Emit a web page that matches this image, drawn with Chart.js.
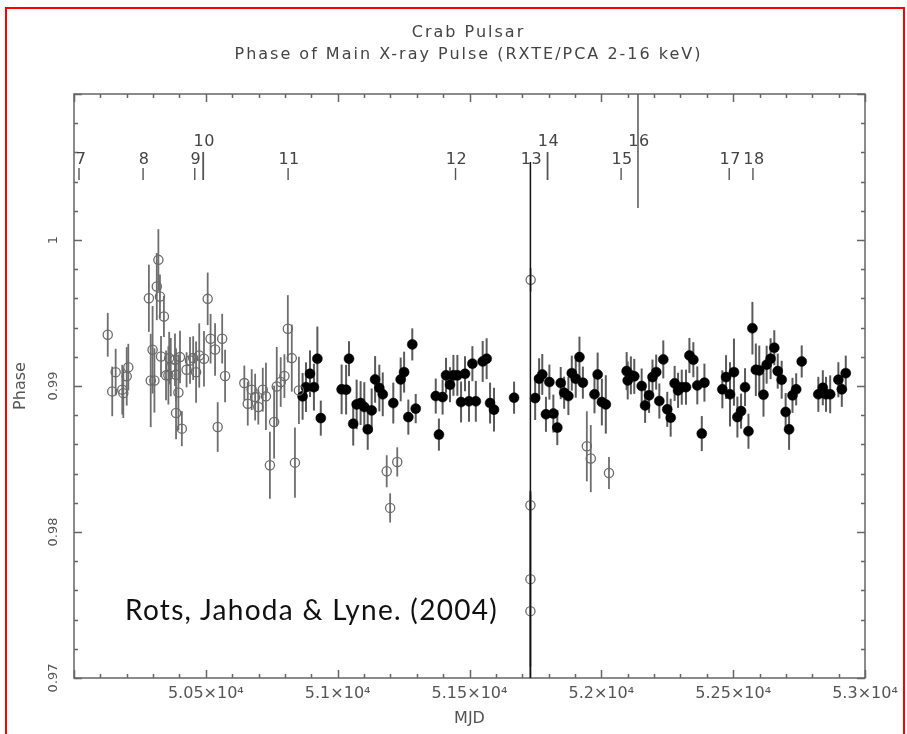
<!DOCTYPE html>
<html>
<head>
<meta charset="utf-8">
<script src="https://cdn.jsdelivr.net/npm/chart.js@4.4.0/dist/chart.umd.min.js"></script>
<style>
  html, body { margin: 0; padding: 0; background: #fff; }
  #wrap { position: relative; width: 907px; height: 734px; overflow: hidden; }
  #frame { position: absolute; left: 5px; top: 7px; width: 896px; height: 760px; border: 2px solid #f00; }
  #chartPhase { position: absolute; left: 0; top: 0; }
  #credit { position: absolute; left: 125px; top: 595px; font-family: Lato, sans-serif; font-size: 28px; line-height: 28px; letter-spacing: 1.3px; color: #111; white-space: nowrap; }
</style>
</head>
<body>
<div id="wrap">
  <div id="frame"></div>
  <canvas id="chartPhase" width="907" height="734"></canvas>
  <div id="credit">Rots, Jahoda &amp; Lyne. (2004)</div>
</div>
<script>
const titleLines = ['Crab Pulsar', 'Phase of Main X-ray Pulse (RXTE/PCA 2-16 keV)'];

// open circles (early observations)
const mjdOpen = [50128, 50145, 50158, 50183, 50187, 50200, 50206, 50284, 50291, 50298,
  50305, 50320, 50314, 50326, 50341, 50330, 50349, 50361, 50367, 50358,
  50383, 50387, 50396, 50387, 50409, 50402, 50427, 50440, 50452, 50463,
  50475, 50493, 50507, 50518, 50535, 50562, 50573, 50545, 50646, 50659,
  50674, 50687, 50699, 50716, 50728, 50743, 50759, 50769, 50784, 50798,
  50811, 50826, 50838, 50853, 51186, 51199, 51226, 51732, 51731, 51731,
  51731, 51945, 51960, 52029];
const phaseOpen = [0.99351, 0.98963, 0.99095, 0.98975, 0.98951, 0.99066, 0.99129, 0.99601, 0.99038, 0.99248,
  0.99038, 0.99864, 0.99681, 0.99613, 0.99476, 0.99202, 0.99073, 0.99191, 0.99129, 0.99073,
  0.99180, 0.99077, 0.98956, 0.98815, 0.98708, 0.99198, 0.99111, 0.99175, 0.99191, 0.99095,
  0.99209, 0.99187, 0.99597, 0.99324, 0.99250, 0.99324, 0.99068, 0.98719, 0.99020, 0.98879,
  0.98975, 0.98924, 0.98856, 0.98975, 0.98929, 0.98457, 0.98753, 0.98997, 0.99027, 0.99068,
  0.99392, 0.99191, 0.98475, 0.98970, 0.98416, 0.98165, 0.98480, 0.99727, 0.98183, 0.97677,
  0.97458, 0.98587, 0.98503, 0.98404];
const errOpen = [0.0015, 0.0017, 0.0016, 0.0017, 0.0017, 0.0020, 0.0016, 0.0023, 0.0032, 0.0030,
  0.0022, 0.0021, 0.0023, 0.0015, 0.0014, 0.0014, 0.0017, 0.0018, 0.0020, 0.0020,
  0.0018, 0.0018, 0.0026, 0.0018, 0.0012, 0.0018, 0.0012, 0.0016, 0.0015, 0.0021,
  0.0022, 0.0019, 0.0018, 0.0017, 0.0018, 0.0017, 0.0018, 0.0017, 0.0012, 0.0015,
  0.0014, 0.0016, 0.0012, 0.0015, 0.0023, 0.0023, 0.0025, 0.0027, 0.0017, 0.0015,
  0.0023, 0.0023, 0.0024, 0.0023, 0.0011, 0.0010, 0.0010, 0.0008, 0.0010, 0.0060,
  0.0080, 0.0024, 0.0023, 0.0011];

// filled circles (later observations)
const mjdFilled = [50867, 50880, 50895, 50910, 50923, 50936, 51015, 51032, 51043, 51059,
  51072, 51087, 51101, 51114, 51129, 51142, 51158, 51171, 51211, 51239,
  51252, 51268, 51283, 51296, 51372, 51384, 51398, 51411, 51426, 51439,
  51454, 51468, 51483, 51498, 51511, 51524, 51550, 51565, 51578, 51593,
  51669, 51749, 51764, 51776, 51790, 51803, 51818, 51833, 51846, 51859,
  51875, 51888, 51903, 51917, 51930, 51974, 51986, 52002, 52017, 52096,
  52100, 52112, 52125, 52153, 52166, 52181, 52194, 52208, 52220, 52235,
  52250, 52263, 52278, 52291, 52305, 52321, 52334, 52349, 52364, 52381,
  52391, 52459, 52473, 52488, 52503, 52516, 52530, 52545, 52558, 52573,
  52586, 52599, 52615, 52627, 52642, 52656, 52669, 52684, 52699, 52712,
  52725, 52739, 52760, 52823, 52840, 52852, 52868, 52899, 52912, 52927];
const phaseFilled = [0.98929, 0.98992, 0.99084, 0.98992, 0.99187, 0.98780, 0.98977, 0.98975, 0.99187, 0.98742,
  0.98874, 0.98883, 0.98856, 0.98703, 0.98833, 0.99045, 0.98986, 0.98943, 0.98883, 0.99045,
  0.99095, 0.98787, 0.99285, 0.98845, 0.98931, 0.98667, 0.98924, 0.99073, 0.99009, 0.99073,
  0.99073, 0.98890, 0.99084, 0.98895, 0.99153, 0.98895, 0.99168, 0.99187, 0.98883, 0.98838,
  0.98920, 0.98917, 0.99050, 0.99079, 0.98806, 0.99027, 0.98811, 0.98715, 0.99020, 0.98954,
  0.98931, 0.99088, 0.99050, 0.99198, 0.99023, 0.98943, 0.99079, 0.98890, 0.98874, 0.99102,
  0.99038, 0.99073, 0.99066, 0.99000, 0.98867, 0.98936, 0.99061, 0.99095, 0.98897, 0.99182,
  0.98840, 0.98783, 0.99018, 0.98970, 0.98992, 0.98992, 0.99209, 0.99180, 0.99004, 0.98674,
  0.99023, 0.98977, 0.99061, 0.98943, 0.99095, 0.98787, 0.98828, 0.98992, 0.98690, 0.99396,
  0.99111, 0.99107, 0.98940, 0.99146, 0.99187, 0.99262, 0.99102, 0.99043, 0.98822, 0.98703,
  0.98936, 0.98977, 0.99168, 0.98943, 0.98988, 0.98943, 0.98943, 0.99043, 0.98977, 0.99088];
const errFilled = [0.0016, 0.0017, 0.0016, 0.0016, 0.0022, 0.0012, 0.0017, 0.0017, 0.0012, 0.0015,
  0.0017, 0.0015, 0.0017, 0.0014, 0.0015, 0.0016, 0.0016, 0.0015, 0.0014, 0.0015,
  0.0014, 0.0012, 0.0011, 0.0010, 0.0012, 0.0011, 0.0012, 0.0012, 0.0012, 0.0014,
  0.0014, 0.0014, 0.0012, 0.0014, 0.0012, 0.0014, 0.0014, 0.0014, 0.0014, 0.0015,
  0.0011, 0.0015, 0.0014, 0.0014, 0.0012, 0.0012, 0.0013, 0.0012, 0.0011, 0.0011,
  0.0013, 0.0012, 0.0013, 0.0014, 0.0011, 0.0013, 0.0015, 0.0016, 0.0020, 0.0013,
  0.0013, 0.0013, 0.0012, 0.0012, 0.0012, 0.0012, 0.0012, 0.0012, 0.0012, 0.0013,
  0.0012, 0.0013, 0.0012, 0.0012, 0.0012, 0.0012, 0.0012, 0.0012, 0.0013, 0.0012,
  0.0013, 0.0013, 0.0015, 0.0022, 0.0023, 0.0014, 0.0012, 0.0013, 0.0012, 0.0018,
  0.0018, 0.0017, 0.0015, 0.0013, 0.0014, 0.0012, 0.0012, 0.0013, 0.0013, 0.0014,
  0.0012, 0.0011, 0.0011, 0.0012, 0.0012, 0.0012, 0.0013, 0.0012, 0.0012, 0.0012];

// glitch epochs marked along the top
const glitchNames = ['7', '8', '9', '10', '11', '12', '13', '14', '15', '16', '17', '18'];
const glitchMJD = [50019, 50262, 50458, 50490, 50812, 51447, 51731, 51796, 52075, 52139, 52485, 52575];

// axis ticks
const xTickValues = [50000, 50500, 51000, 51500, 52000, 52500, 53000];
const xTickLabels = ['', '5.05×10⁴', '5.1×10⁴', '5.15×10⁴', '5.2×10⁴', '5.25×10⁴', '5.3×10⁴'];
const yTickValues = [0.97, 0.98, 0.99, 1];
const yTickLabels = ['0.97', '0.98', '0.99', '1'];

const toPoints = (xs, ys) => xs.map((x, i) => ({x: x, y: ys[i]}));

// two-line heading, centred over the plot box
const header = {
  id: 'header',
  afterDraw(chart) {
    const {ctx, chartArea: a} = chart;
    ctx.save();
    ctx.font = '16px "DejaVu Sans"';
    ctx.letterSpacing = '2px';
    ctx.fillStyle = '#444';
    ctx.textAlign = 'center';
    ctx.textBaseline = 'middle';
    const cx = (a.left + a.right) / 2 - 1;
    ctx.fillText(titleLines[0], cx, 33);
    ctx.fillText(titleLines[1], cx, 55);
    ctx.restore();
  }
};

// vertical error bars, drawn under the symbols
const errorBars = {
  id: 'errorBars',
  beforeDatasetsDraw(chart) {
    const {ctx, chartArea, scales: {x, y}} = chart;
    const sets = [
      {mjd: mjdOpen, ph: phaseOpen, err: errOpen, color: '#6e6e6e', w: 1.8},
      {mjd: mjdFilled, ph: phaseFilled, err: errFilled, color: '#5a5a5a', w: 2}
    ];
    ctx.save();
    ctx.beginPath();
    ctx.rect(chartArea.left, chartArea.top, chartArea.width, chartArea.height);
    ctx.clip();
    sets.forEach(s => {
      ctx.strokeStyle = s.color;
      ctx.lineWidth = s.w;
      s.mjd.forEach((m, i) => {
        const px = x.getPixelForValue(m);
        ctx.beginPath();
        ctx.moveTo(px, y.getPixelForValue(s.ph[i] + s.err[i]));
        ctx.lineTo(px, y.getPixelForValue(s.ph[i] - s.err[i]));
        ctx.stroke();
      });
    });
    ctx.restore();
  }
};

// box with inward ticks, plus glitch markers
const frameAndGlitches = {
  id: 'frameAndGlitches',
  afterDatasetsDraw(chart) {
    const {ctx, chartArea: a, scales: {x, y}} = chart;
    ctx.save();
    ctx.strokeStyle = '#666';
    ctx.lineWidth = 1.5;
    ctx.strokeRect(a.left, a.top, a.width, a.height);
    ctx.beginPath();
    for (let m = x.min; m <= x.max + 1; m += 100) {
      const px = Math.round(x.getPixelForValue(m)) + 0.5;
      const len = (m % 500 === 0) ? 8 : 4;
      ctx.moveTo(px, a.bottom); ctx.lineTo(px, a.bottom - len);
      ctx.moveTo(px, a.top); ctx.lineTo(px, a.top + len);
    }
    for (let k = 0; k <= 20; k++) {
      const v = y.min + k * 0.002;
      const py = Math.round(y.getPixelForValue(v)) + 0.5;
      const len = (k % 5 === 0) ? 8 : 4;
      ctx.moveTo(a.left, py); ctx.lineTo(a.left + len, py);
      ctx.moveTo(a.right, py); ctx.lineTo(a.right - len, py);
    }
    ctx.stroke();

    // glitch markers
    const raised = ['10', '14', '16'];
    ctx.font = '16px "DejaVu Sans"';
    ctx.letterSpacing = '0.5px';
    ctx.fillStyle = '#444';
    ctx.textAlign = 'center';
    ctx.textBaseline = 'middle';
    glitchNames.forEach((name, i) => {
      const px = x.getPixelForValue(glitchMJD[i]);
      const hi = raised.includes(name);
      let top = hi ? 1.00603 : 1.00493;
      let bot = 1.00411;
      ctx.strokeStyle = '#555';
      ctx.lineWidth = hi ? 1.8 : 1.4;
      if (name === '16') { top = y.max; bot = 1.00219; ctx.lineWidth = 1.5; }
      if (name === '13') { top = 1.00534; bot = y.min; ctx.strokeStyle = '#111'; ctx.lineWidth = 1.5; }
      ctx.beginPath();
      ctx.moveTo(px, y.getPixelForValue(top));
      ctx.lineTo(px, y.getPixelForValue(bot));
      ctx.stroke();
      const ly = y.getPixelForValue(hi ? 1.00671 : 1.00548);
      ctx.fillText(name, px + (name === '7' ? 2 : 1), ly);
    });
    ctx.restore();
  }
};

new Chart(document.getElementById('chartPhase'), {
  type: 'scatter',
  data: {
    datasets: [{
      label: 'open',
      data: toPoints(mjdOpen, phaseOpen),
      pointStyle: 'circle',
      pointRadius: 4.6,
      borderWidth: 1.3,
      borderColor: '#6a6a6a',
      backgroundColor: 'rgba(0,0,0,0)'
    }, {
      label: 'filled',
      data: toPoints(mjdFilled, phaseFilled),
      pointStyle: 'circle',
      pointRadius: 5,
      borderWidth: 0.5,
      borderColor: '#000',
      backgroundColor: '#000'
    }]
  },
  options: {
    responsive: false,
    animation: false,
    devicePixelRatio: 1,
    layout: {padding: {top: 94, left: 0, right: 42, bottom: 0}},
    plugins: {
      legend: {display: false},
      tooltip: {enabled: false},
      title: {display: false}
    },
    scales: {
      x: {
        type: 'linear',
        min: 50000,
        max: 53000,
        grid: {display: false, drawTicks: false},
        border: {display: false},
        afterBuildTicks: s => { s.ticks = xTickValues.map(v => ({value: v})); },
        afterFit: s => { s.height = 56; },
        ticks: {
          autoSkip: false,
          maxRotation: 0,
          padding: 6,
          color: '#555',
          font: {family: '"DejaVu Sans"', size: 16},
          callback: (v, i) => xTickLabels[i]
        },
        title: {
          display: true,
          text: 'MJD',
          color: '#555',
          font: {family: '"DejaVu Sans"', size: 16},
          padding: {top: 0, bottom: 6}
        }
      },
      y: {
        type: 'linear',
        min: 0.97,
        max: 1.01,
        grid: {display: false, drawTicks: false},
        border: {display: false},
        afterBuildTicks: s => { s.ticks = yTickValues.map(v => ({value: v})); },
        afterFit: s => { s.width = 74; },
        ticks: {
          minRotation: 90,
          maxRotation: 90,
          crossAlign: 'center',
          padding: 6,
          color: '#555',
          font: {family: '"DejaVu Sans"', size: 13},
          callback: (v, i) => yTickLabels[i]
        },
        title: {
          display: true,
          text: 'Phase',
          color: '#555',
          font: {family: '"DejaVu Sans"', size: 16},
          padding: {top: 11, bottom: 0}
        }
      }
    }
  },
  plugins: [header, errorBars, frameAndGlitches]
});
</script>
</body>
</html>
